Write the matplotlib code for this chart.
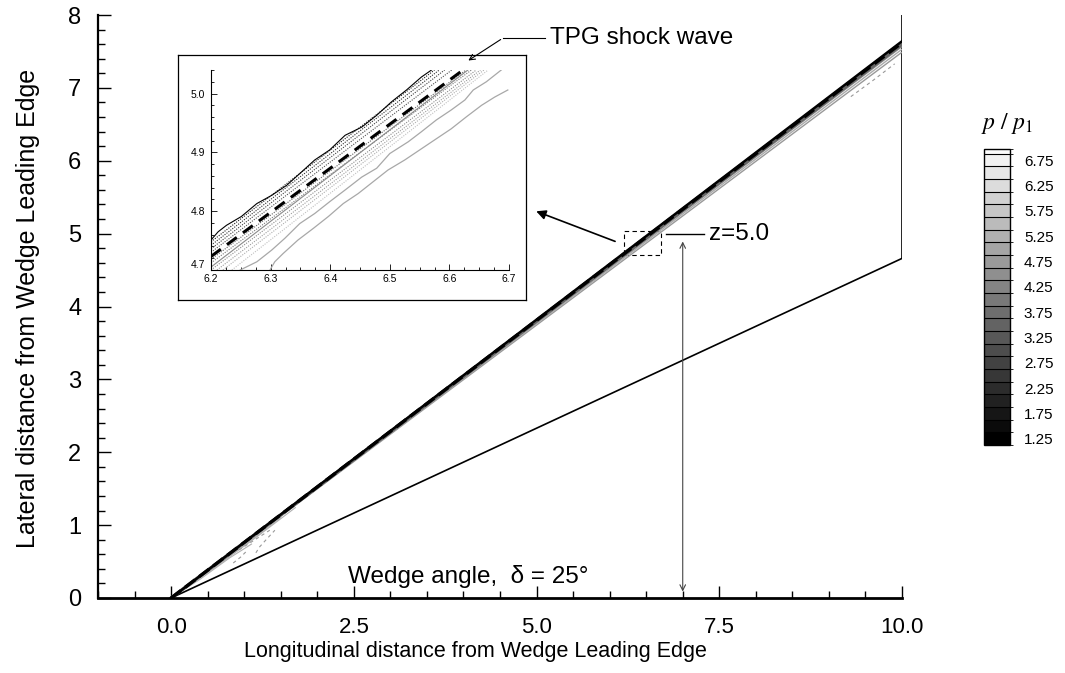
import matplotlib
matplotlib.use("Agg")
import matplotlib.pyplot as plt
import matplotlib as mpl
from matplotlib.ticker import MultipleLocator, FixedLocator
from matplotlib.colors import ListedColormap, BoundaryNorm
from matplotlib.patches import Rectangle
import numpy as np

plt.rcParams['font.family'] = ['Liberation Sans', 'DejaVu Sans']

W, H = 1065, 673

def fx(px):
    return px / W

def fy(py):
    return 1 - py / H

# ---- data ----
wedge_x = [0.0, 10.0]
wedge_y = [0.0, 4.66]
domain_right_x = [10.0, 10.0]
domain_right_y = [4.66, 8.0]

# main shock band: lines from the leading edge to x=10
shock_end_x = 10.0
shock_end_y = [7.49, 7.53, 7.57, 7.60, 7.64, 7.62]
shock_colors = ['#999999', '#aaaaaa', '#888888', '#666666', 'black', 'black']
shock_styles = ['-', '-', '-', '-', '-', '--']
shock_widths = [1.0, 1.0, 1.2, 2.4, 1.8, 2.4]

# contour fan near the leading edge
fan_x = [[0.0, 0.5, 1.0, 1.5], [0.0, 0.6, 1.2, 1.7], [0.0, 0.4, 0.8, 1.1]]
fan_y = [[0.0, 0.36, 0.72, 1.10], [0.0, 0.42, 0.86, 1.24], [0.0, 0.26, 0.55, 0.74]]
fan_dash_x = [[0.93, 1.07, 1.21, 1.35], [1.16, 1.21, 1.30, 1.42], [0.85, 0.95, 1.05], [9.30, 9.60, 9.90]]
fan_dash_y = [[0.66, 0.75, 0.84, 0.93], [0.62, 0.70, 0.80, 0.93], [0.48, 0.56, 0.66], [6.88, 7.10, 7.33]]

# inset (z = 5.0 slice)
ins_black_x = [6.200, 6.212, 6.226, 6.251, 6.277, 6.302, 6.327, 6.349, 6.374, 6.399,
               6.425, 6.453, 6.478, 6.503, 6.528, 6.553, 6.570]
ins_black_y = [4.751, 4.765, 4.776, 4.791, 4.813, 4.827, 4.844, 4.864, 4.887, 4.904,
               4.929, 4.943, 4.963, 4.986, 5.006, 5.028, 5.040]
ins_tpg_x = [6.200, 6.623]
ins_tpg_y = [4.723, 5.040]
ins_mid_x = [6.200, 6.631]
ins_mid_y = [4.705, 5.040]
ins_a_x = [6.249, 6.277, 6.302, 6.324, 6.349, 6.374, 6.399, 6.425, 6.453, 6.478,
           6.500, 6.531, 6.553, 6.578, 6.603, 6.626, 6.640, 6.662, 6.687]
ins_a_y = [4.700, 4.714, 4.734, 4.754, 4.779, 4.796, 4.816, 4.836, 4.858, 4.873,
           4.898, 4.918, 4.935, 4.955, 4.972, 4.989, 5.006, 5.020, 5.040]
ins_b_x = [6.299, 6.307, 6.321, 6.346, 6.372, 6.397, 6.422, 6.447, 6.472, 6.497,
           6.525, 6.550, 6.575, 6.603, 6.628, 6.654, 6.676, 6.698]
ins_b_y = [4.700, 4.714, 4.728, 4.751, 4.771, 4.791, 4.813, 4.830, 4.850, 4.870,
           4.887, 4.904, 4.921, 4.940, 4.960, 4.980, 4.994, 5.006]
dot_x0 = [6.200, 6.200, 6.200, 6.200, 6.200, 6.200, 6.200, 6.210, 6.220, 6.235]
dot_y0 = [4.748, 4.742, 4.736, 4.730, 4.718, 4.712, 4.700, 4.700, 4.700, 4.700]
dot_x1 = [6.575, 6.583, 6.592, 6.604, 6.628, 6.637, 6.645, 6.652, 6.658, 6.665]
dot_y1 = [5.040] * 10

# colour bar
cb_levels = [1.125, 1.375, 1.625, 1.875, 2.125, 2.375, 2.625, 2.875, 3.125, 3.375,
             3.625, 3.875, 4.125, 4.375, 4.625, 4.875, 5.125, 5.375, 5.625, 5.875,
             6.125, 6.375, 6.625, 6.875, 6.97]
cb_ticks = [1.25, 1.75, 2.25, 2.75, 3.25, 3.75, 4.25, 4.75, 5.25, 5.75, 6.25, 6.75]

x_ticks = [0.0, 2.5, 5.0, 7.5, 10.0]
x_tick_labels = ['0.0', '2.5', '5.0', '7.5', '10.0']
inset_x_ticks = [6.2, 6.3, 6.4, 6.5, 6.6, 6.7]
inset_y_ticks = [4.7, 4.8, 4.9, 5.0]

# ---- figure ----
fig = plt.figure(figsize=(W / 100, H / 100), dpi=100)

ax = fig.add_axes([fx(98), fy(598), fx(902) - fx(98), fy(15) - fy(598)])
ax.set_xlim(-1.0, 10.0)
ax.set_ylim(0.0, 8.0)
for s in ['top', 'right']:
    ax.spines[s].set_visible(False)
ax.spines['bottom'].set_linewidth(2.0)
ax.spines['left'].set_linewidth(1.6)
ax.xaxis.set_major_locator(FixedLocator(x_ticks))
ax.xaxis.set_minor_locator(MultipleLocator(0.5))
ax.yaxis.set_major_locator(MultipleLocator(1))
ax.yaxis.set_minor_locator(MultipleLocator(0.2))
ax.set_xticklabels(x_tick_labels, fontsize=16)
ax.tick_params(which='both', direction='in', width=1.0)
ax.tick_params(axis='y', labelsize=17, pad=12)
ax.tick_params(axis='x', pad=14)
ax.tick_params(which='major', length=9)
ax.tick_params(which='minor', length=5)

ax.plot(wedge_x, wedge_y, color='black', lw=1.2)
ax.plot(domain_right_x, domain_right_y, color='black', lw=1.2)
for fxs, fys in zip(fan_x, fan_y):
    ax.plot(fxs, fys, color='#b0b0b0', lw=0.8)
for fxs, fys in zip(fan_dash_x, fan_dash_y):
    ax.plot(fxs, fys, color='#999999', lw=0.8, ls=(0, (3, 3)))
for ye, c, st, w in zip(shock_end_y, shock_colors, shock_styles, shock_widths):
    ax.plot([0.0, shock_end_x], [0.0, ye], color=c, ls=st, lw=w)

ax.add_patch(Rectangle((6.2, 4.7), 0.5, 0.34, fill=False, ls=(0, (4, 3)), lw=0.8, color='black'))

ax.annotate('', xy=(4.96, 5.32), xytext=(6.11, 4.88),
            arrowprops=dict(arrowstyle='-|>', color='black', lw=1.2, mutation_scale=14))
ax.plot([6.77, 7.29], [4.99, 4.99], color='black', lw=1.0)
ax.text(7.36, 4.99, 'z=5.0', fontsize=17.5, va='center', ha='left')
ax.annotate('', xy=(7.0, 4.93), xytext=(7.0, 0.05),
            arrowprops=dict(arrowstyle='<->', color='#444444', lw=0.8, mutation_scale=10))
ax.text(2.42, 0.29, 'Wedge angle,  \u03b4 = 25\u00b0', fontsize=17.5, va='center', ha='left')

fig.text(fx(475), fy(651), 'Longitudinal distance from Wedge Leading Edge',
         fontsize=15.5, ha='center', va='center')
fig.text(fx(28), fy(308), 'Lateral distance from Wedge Leading Edge',
         fontsize=18, ha='center', va='center', rotation=90)

# inset frame
frame = fig.add_axes([fx(178), fy(300), fx(526) - fx(178), fy(55) - fy(300)])
frame.set_xticks([])
frame.set_yticks([])
for s in frame.spines.values():
    s.set_linewidth(0.9)

axi = fig.add_axes([fx(211), fy(270), fx(509) - fx(211), fy(70) - fy(270)])
axi.set_xlim(6.2, 6.7)
axi.set_ylim(4.7, 5.04)
axi.patch.set_alpha(0)
for s in ['top', 'right']:
    axi.spines[s].set_visible(False)
axi.spines['left'].set_linewidth(0.8)
axi.spines['bottom'].set_linewidth(0.8)
axi.xaxis.set_major_locator(FixedLocator(inset_x_ticks))
axi.xaxis.set_minor_locator(MultipleLocator(0.025))
axi.yaxis.set_major_locator(FixedLocator(inset_y_ticks))
axi.yaxis.set_minor_locator(MultipleLocator(0.02))
axi.set_xticklabels([f'{t:.1f}' for t in inset_x_ticks])
axi.set_yticklabels([f'{t:.1f}' for t in inset_y_ticks])
axi.tick_params(which='both', direction='in', labelsize=7.5, width=0.6)
axi.tick_params(axis='x', pad=3)
axi.tick_params(axis='y', pad=4)
axi.tick_params(which='major', length=4)
axi.tick_params(which='minor', length=2)
axi.get_yticklabels()[0].set_verticalalignment('bottom')

dot_colors = plt.cm.gray(np.linspace(0.1, 0.75, len(dot_x0)))
for x0, y0, x1, y1, c in zip(dot_x0, dot_y0, dot_x1, dot_y1, dot_colors):
    axi.plot([x0, x1], [y0, y1], color=c, lw=0.8, ls=(0, (1, 1.2)))
axi.plot(ins_b_x, ins_b_y, color='#a8a8a8', lw=0.9)
axi.plot(ins_a_x, ins_a_y, color='#a8a8a8', lw=0.9)
axi.plot(ins_mid_x, ins_mid_y, color='#8a8a8a', lw=0.8)
axi.plot(ins_black_x, ins_black_y, color='black', lw=0.8)
axi.plot(ins_tpg_x, ins_tpg_y, color='black', lw=2.2, ls=(0, (4, 2.5)))

# TPG leader
fig.text(fx(550), fy(38), 'TPG shock wave', fontsize=17.5, ha='left', va='center')
fig.add_artist(plt.Line2D([fx(545), fx(503)], [fy(38), fy(38)], color='black', lw=0.8))
fig.add_artist(mpl.patches.FancyArrowPatch((fx(503), fy(38)), (fx(466), fy(62)),
                                           transform=fig.transFigure, arrowstyle='->',
                                           color='black', lw=0.8, mutation_scale=10))

# colour bar
axc = fig.add_axes([fx(984), fy(445), fx(1010) - fx(984), fy(149) - fy(445)])
ncell = len(cb_levels) - 1
greys = np.linspace(0.0, 0.95, ncell - 1).tolist() + [0.99]
cmap = ListedColormap([(g, g, g) for g in greys])
norm = BoundaryNorm(cb_levels, ncell)
cb = mpl.colorbar.ColorbarBase(axc, cmap=cmap, norm=norm, boundaries=cb_levels,
                               ticks=cb_ticks, drawedges=True, spacing='proportional')
cb.ax.set_yticklabels([f'{t:.2f}' for t in cb_ticks])
cb.ax.tick_params(length=0, labelsize=11, pad=10)
cb.outline.set_linewidth(1.0)
cb.dividers.set_linewidth(0.8)
fig.text(fx(1007), fy(124), r'$p\ /\ p_{\mathit{1}}$', fontsize=17, ha='center', va='center',
         math_fontfamily='stix')

fig.savefig('out.png', dpi=100)
